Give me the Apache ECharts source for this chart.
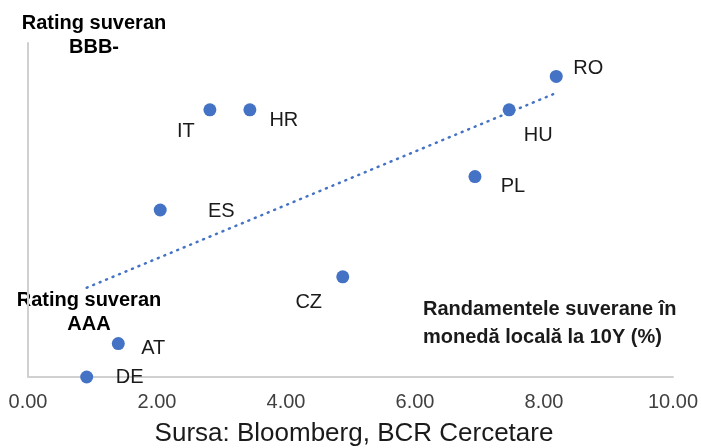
<!DOCTYPE html>
<html>
<head>
<meta charset="utf-8">
<script src="https://cdn.jsdelivr.net/npm/echarts@6/dist/echarts.min.js"></script>
<style>
  html, body { margin: 0; padding: 0; background: #fff; }
  #chart { width: 701px; height: 448px; }
</style>
</head>
<body>
<div id="chart"></div>
<script>
// Countries, 10Y local currency yields (%) and rating notches below AAA
const countries = ['DE', 'AT', 'ES', 'IT', 'HR', 'CZ', 'PL', 'HU', 'RO'];
const yields = [0.91, 1.40, 2.05, 2.82, 3.44, 4.88, 6.93, 7.46, 8.19];
const ratingNotch = [0, 1, 5, 8, 8, 3, 6, 8, 9];
const xTicks = [0, 2, 4, 6, 8, 10];

// where each point's label sits relative to the marker
const labelOffsets = {
  DE: [43, 0], AT: [35, 5], ES: [61, 1], IT: [-24, 22], HR: [34, 11],
  CZ: [-34, 26], PL: [38, 10], HU: [29, 26], RO: [32, -8]
};

// linear trendline (least squares over the points)
const n = yields.length;
const mx = yields.reduce((a, b) => a + b, 0) / n;
const my = ratingNotch.reduce((a, b) => a + b, 0) / n;
let sxy = 0, sxx = 0;
for (let i = 0; i < n; i++) {
  sxy += (yields[i] - mx) * (ratingNotch[i] - my);
  sxx += (yields[i] - mx) * (yields[i] - mx);
}
const slope = sxy / sxx;
const intercept = my - slope * mx;
const xMin = Math.min(...yields), xMax = Math.max(...yields);
const trend = [[xMin, intercept + slope * xMin], [xMax, intercept + slope * xMax]];

const FONT = '"Liberation Sans", Arial, sans-serif';
const BLUE = '#4472C4';

const chart = echarts.init(document.getElementById('chart'));
chart.setOption({
  animation: false,
  grid: { left: 28, right: 28, top: 43, bottom: 71, containLabel: false },
  xAxis: {
    type: 'value',
    min: xTicks[0],
    max: xTicks[xTicks.length - 1],
    interval: 2,
    axisLine: { show: true, lineStyle: { color: '#d0d0d0', width: 2 } },
    axisTick: { show: false },
    splitLine: { show: false },
    axisLabel: {
      formatter: v => v.toFixed(2),
      color: '#404040',
      fontFamily: FONT,
      fontSize: 20,
      margin: 15
    }
  },
  yAxis: {
    type: 'value',
    min: 0,
    max: 10,
    axisLine: { show: true, lineStyle: { color: '#d0d0d0', width: 2 } },
    axisTick: { show: false },
    splitLine: { show: false },
    axisLabel: { show: false }
  },
  series: [
    {
      type: 'line',
      data: trend,
      symbol: 'none',
      lineStyle: { color: BLUE, width: 2.5, type: [1, 6], cap: 'round' },
      z: 1
    },
    {
      type: 'scatter',
      symbolSize: 13,
      itemStyle: { color: BLUE, opacity: 1 },
      z: 2,
      data: countries.map((c, i) => ({
        name: c,
        value: [yields[i], ratingNotch[i]],
        label: {
          show: true,
          position: 'inside',
          offset: labelOffsets[c],
          formatter: c,
          color: '#1a1a1a',
          fontFamily: FONT,
          fontSize: 20
        }
      }))
    }
  ],
  graphic: [
    {
      type: 'text', x: 94, y: 11,
      style: {
        text: 'Rating suveran\nBBB-', textAlign: 'center',
        fontFamily: FONT, fontWeight: 'bold', fontSize: 20,
        fill: '#000', lineHeight: 24
      }
    },
    {
      type: 'text', x: 89, y: 288,
      style: {
        text: 'Rating suveran\nAAA', textAlign: 'center',
        fontFamily: FONT, fontWeight: 'bold', fontSize: 20,
        fill: '#000', lineHeight: 24
      }
    },
    {
      type: 'text', x: 423, y: 295,
      style: {
        text: 'Randamentele suverane în\nmonedă locală la 10Y (%)',
        fontFamily: FONT, fontWeight: 'bold', fontSize: 20,
        fill: '#1a1a1a', lineHeight: 28
      }
    },
    {
      type: 'text', x: 354, y: 421,
      style: {
        text: 'Sursa: Bloomberg, BCR Cercetare', textAlign: 'center',
        fontFamily: FONT, fontSize: 26, fill: '#1a1a1a'
      }
    }
  ]
});
</script>
</body>
</html>
